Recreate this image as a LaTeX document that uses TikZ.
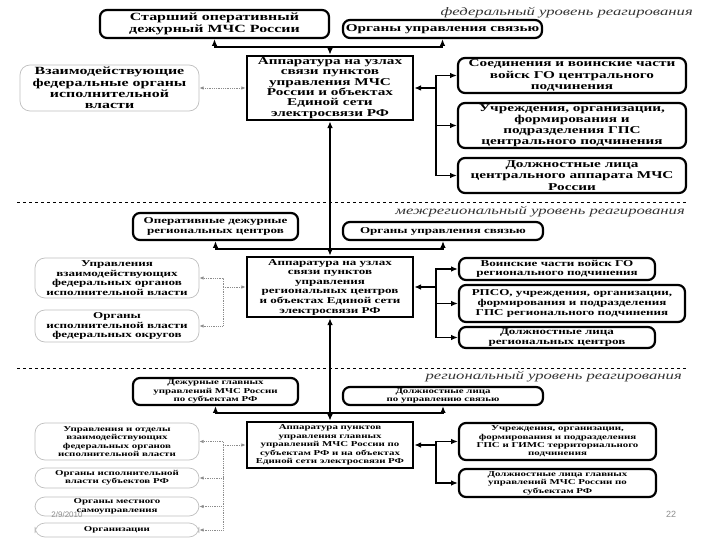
\documentclass[tikz,border=0pt]{standalone}
\usepackage{fontspec}
\setmainfont{Liberation Serif}[FakeStretch=1.45]
\newfontfamily\datefont{Liberation Sans}
\usetikzlibrary{arrows.meta,calc,positioning}

\begin{document}
\begin{tikzpicture}[x=1pt,y=-1pt,
  every node/.style={align=center,inner sep=0pt},
  bigtext/.style={font=\bfseries\fontsize{10.5}{11.2}\selectfont},
  midtext/.style={font=\bfseries\fontsize{9}{9.6}\selectfont},
  lowtext/.style={font=\bfseries\fontsize{7.5}{8.4}\selectfont},
  mainbox/.style={draw,line width=2.2pt,rounded corners=7pt},
  hubbox/.style={draw,line width=2.6pt},
  sidebox/.style={draw=black!25,line width=0.7pt,rounded corners=10pt},
  link/.style={line width=1.4pt,-{Latex[length=2.4mm,width=2mm]}},
  spine/.style={line width=1.8pt,{Latex[length=2.4mm,width=2mm]}-{Latex[length=2.4mm,width=2mm]}},
  dotlink/.style={densely dotted,black!45,line width=0.8pt,-{Latex[length=1.5mm,width=1.2mm]}},
  level/.style={font=\itshape\fontsize{11.5}{12}\selectfont,anchor=east,text=black!80},
  cut/.style={dashed,line width=1pt}]
  \useasboundingbox (0,0) rectangle (720,540);

  % federal level
  \node[level] at (693,13) {федеральный уровень реагирования};
  \node[mainbox,font=\bfseries\fontsize{11}{12.5}\selectfont,minimum width=229pt,minimum height=28pt] (tl) at (214.5,24) {Старший оперативный\\дежурный МЧС России};
  \node[mainbox,bigtext,minimum width=199pt,minimum height=18pt] (tr) at (442.5,29) {Органы управления связью};
  \node[hubbox,font=\bfseries\fontsize{10.5}{10.3}\selectfont,minimum width=166pt,minimum height=64pt] (c1) at (330,88) {Аппаратура на узлах\\связи пунктов\\управления МЧС\\России и объектах\\Единой сети\\электросвязи РФ};
  \node[sidebox,font=\bfseries\fontsize{11}{11.2}\selectfont,minimum width=179pt,minimum height=46pt] (l1) at (109.5,88) {Взаимодействующие\\федеральные органы\\исполнительной\\власти};
  \node[mainbox,bigtext,minimum width=228pt,minimum height=35pt] (r1a) at (572,75.5) {Соединения и воинские части\\войск ГО центрального\\подчинения};
  \node[mainbox,bigtext,minimum width=228pt,minimum height=45pt] (r1b) at (572,125.5) {Учреждения, организации,\\формирования и\\подразделения ГПС\\центрального подчинения};
  \node[mainbox,bigtext,minimum width=228pt,minimum height=35pt] (r1c) at (572,175.5) {Должностные лица\\центрального аппарата МЧС\\России};
  \coordinate (j1) at (330,47);
  \coordinate (rj1) at (436,88);
  \draw[link] (j1) -| (tl.south);
  \draw[link] (j1) -| (tr.south);
  \draw[link] (j1) -- (c1.north);
  \draw[link] (rj1) -- (c1.east);
  \foreach \b in {r1a,r1b,r1c}
    \draw[link] (rj1) |- (\b.west);
  \draw[dotlink,{Latex[length=1.5mm,width=1.2mm]}-{Latex[length=1.5mm,width=1.2mm]}] (l1.east) -- (c1.west);

  \draw[cut] (17,203) -- (687,203);

  % interregional level
  \node[level] at (685,212) {межрегиональный уровень реагирования};
  \node[mainbox,midtext,minimum width=165pt,minimum height=27pt] (ml) at (215.5,226.5) {Оперативные дежурные\\региональных центров};
  \node[mainbox,midtext,minimum width=200pt,minimum height=18pt] (mr) at (443,231) {Органы управления связью};
  \node[hubbox,midtext,minimum width=166pt,minimum height=60pt] (c2) at (330,287) {Аппаратура на узлах\\связи пунктов\\управления\\региональных центров\\и объектах Единой сети\\электросвязи РФ};
  \node[sidebox,midtext,minimum width=164pt,minimum height=40pt] (l2a) at (117,278) {Управления\\взаимодействующих\\федеральных органов\\исполнительной власти};
  \node[sidebox,midtext,minimum width=164pt,minimum height=32pt] (l2b) at (117,326) {Органы\\исполнительной власти\\федеральных округов};
  \node[mainbox,midtext,minimum width=196pt,minimum height=22pt] (r2a) at (557,269) {Воинские части войск ГО\\регионального подчинения};
  \node[mainbox,midtext,minimum width=226pt,minimum height=37pt] (r2b) at (572,303.5) {РПСО, учреждения, организации,\\формирования и подразделения\\ГПС регионального подчинения};
  \node[mainbox,midtext,minimum width=196pt,minimum height=21pt] (r2c) at (557,337.5) {Должностные лица\\региональных центров};
  \coordinate (j2) at (330,249);
  \coordinate (rj2) at (436,287);
  \coordinate (lj2) at (223,287);
  \draw[spine] (c1.south) -- (c2.north);
  \draw[link] (j2) -| (ml.south);
  \draw[link] (j2) -| (mr.south);
  \draw[link] (rj2) -- (c2.east);
  \foreach \b in {r2a,r2b,r2c}
    \draw[link] (rj2) |- (\b.west);
  \draw[dotlink] (lj2) -- (c2.west);
  \foreach \b in {l2a,l2b}
    \draw[dotlink] (lj2) |- (\b.east);

  \draw[cut] (17,368) -- (687,368);

  % regional level
  \node[level] at (682,377) {региональный уровень реагирования};
  \node[mainbox,lowtext,minimum width=165pt,minimum height=27pt] (bl) at (215.5,391.5) {Дежурные главных\\управлений МЧС России\\по субъектам РФ};
  \node[mainbox,lowtext,minimum width=200pt,minimum height=18pt] (br) at (443,396) {Должностные лица\\по управлению связью};
  \node[hubbox,lowtext,minimum width=166pt,minimum height=46pt] (c3) at (330,445) {Аппаратура пунктов\\управления главных\\управлений МЧС России по\\субъектам РФ и на объектах\\Единой сети электросвязи РФ};
  \node[sidebox,lowtext,minimum width=164pt,minimum height=37pt] (l3a) at (117,441.5) {Управления и отделы\\взаимодействующих\\федеральных органов\\исполнительной власти};
  \node[sidebox,lowtext,minimum width=164pt,minimum height=20pt] (l3b) at (117,478) {Органы исполнительной\\власти субъектов РФ};
  \node[sidebox,lowtext,minimum width=164pt,minimum height=19pt] (l3c) at (117,506.5) {Органы местного\\самоуправления};
  \node[sidebox,lowtext,minimum width=164pt,minimum height=14pt] (l3d) at (117,530) {Организации};
  \node[mainbox,lowtext,minimum width=197pt,minimum height=37pt] (r3a) at (557.5,441.5) {Учреждения, организации,\\формирования и подразделения\\ГПС и ГИМС территориального\\подчинения};
  \node[mainbox,lowtext,minimum width=197pt,minimum height=28pt] (r3b) at (557.5,483) {Должностные лица главных\\управлений МЧС России по\\субъектам РФ};
  \coordinate (j3) at (330,413);
  \coordinate (rj3) at (436,445);
  \coordinate (lj3) at (223,445);
  \draw[spine] (c2.south) -- (c3.north);
  \draw[link] (j3) -| (bl.south);
  \draw[link] (j3) -| (br.south);
  \draw[link] (rj3) -- (c3.east);
  \foreach \b in {r3a,r3b}
    \draw[link] (rj3) |- (\b.west);
  \draw[dotlink] (lj3) -- (c3.west);
  \foreach \b in {l3a,l3b,l3c,l3d}
    \draw[dotlink] (lj3) |- (\b.east);

  % slide footer
  \node[font=\datefont\fontsize{8}{9}\selectfont,text=black!45] (date) at (67,515) {2/9/2010};
  \node[font=\datefont\fontsize{9}{10}\selectfont,text=black!45] (page) at (671,514) {22};
\end{tikzpicture}
\end{document}
